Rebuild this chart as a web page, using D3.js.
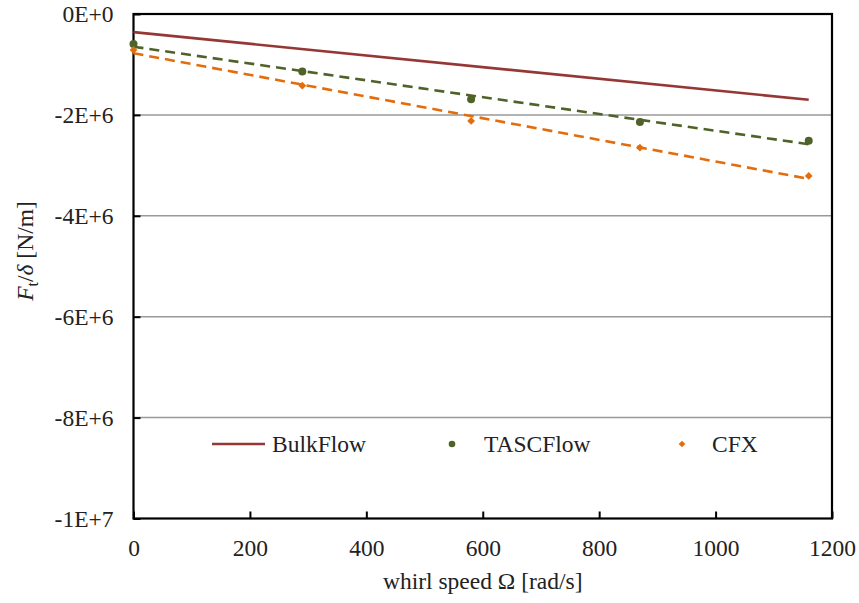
<!DOCTYPE html>
<html><head><meta charset="utf-8">
<script src="https://cdn.jsdelivr.net/npm/d3@7"></script>
<style>body{margin:0;background:#fff}svg{display:block}</style>
</head><body><svg id="c" width="859" height="603"></svg>
<script>
const xTicks = [0,200,400,600,800,1000,1200];
const yTicks = [0,-2e6,-4e6,-6e6,-8e6,-1e7];
const yTickLabels = ["0E+0","-2E+6","-4E+6","-6E+6","-8E+6","-1E+7"];
const bulkX = [0,1160];
const bulkY = [-0.36e6,-1.70e6];
const omega = [0,290,580,870,1160];
const tascY = [-0.594e6,-1.14e6,-1.69e6,-2.14e6,-2.51e6];
const cfxY = [-0.713e6,-1.42e6,-2.12e6,-2.65e6,-3.21e6];
const seriesNames = ["BulkFlow","TASCFlow","CFX"];
const colors = {bulk:"#953735", tasc:"#4F6228", cfx:"#E46C0A"};
const FONT = "Liberation Serif";
const FS = "23.5px";

const svg = d3.select("#c").style("font-family",FONT);
const L=133.5,R=832,T=14,B=518.5;
const x = d3.scaleLinear().domain([0,1200]).range([L,R]);
const y = d3.scaleLinear().domain([-1e7,0]).range([B,T]);

svg.append("g").selectAll("line").data(yTicks.filter(v=>v!==0&&v!==-1e7)).join("line")
  .attr("x1",L).attr("x2",R).attr("y1",d=>y(d)).attr("y2",d=>y(d))
  .attr("stroke","#999").attr("stroke-width",1.5);

const yAxis = d3.axisLeft(y).tickValues(yTicks).tickSize(-7).tickPadding(20)
  .tickFormat((d,i)=>yTickLabels[i]);
const gy = svg.append("g").attr("transform",`translate(${L},0)`).call(yAxis).attr("font-family",null);
gy.select(".domain").remove();
gy.selectAll(".tick line").attr("stroke","#000").attr("stroke-width",2);
gy.selectAll(".tick text").style("font-family",FONT).style("font-size",FS).attr("fill","#222").attr("dy","0.32em");

const xAxis = d3.axisBottom(x).tickValues(xTicks).tickSize(-7).tickPadding(21).tickFormat(d3.format("d"));
const gx = svg.append("g").attr("transform",`translate(0,${B})`).call(xAxis).attr("font-family",null);
gx.select(".domain").remove();
gx.selectAll(".tick line").attr("stroke","#000").attr("stroke-width",2);
gx.selectAll(".tick text").style("font-family",FONT).style("font-size",FS).attr("fill","#222");

svg.append("rect").attr("x",L).attr("y",T).attr("width",R-L).attr("height",B-T)
  .attr("fill","none").attr("stroke","#000").attr("stroke-width",2.2);

// linear trendlines (least squares) of the CFD series
function fit(xs,ys){const n=xs.length,mx=d3.mean(xs),my=d3.mean(ys);
  let sxy=0,sxx=0;for(let i=0;i<n;i++){sxy+=(xs[i]-mx)*(ys[i]-my);sxx+=(xs[i]-mx)**2;}
  const m=sxy/sxx,b=my-m*mx;return [[xs[0],m*xs[0]+b],[xs[n-1],m*xs[n-1]+b]];}
const line = d3.line().x(d=>x(d[0])).y(d=>y(d[1]));

svg.append("path").datum(fit(omega,tascY)).attr("d",line).attr("fill","none")
  .attr("stroke",colors.tasc).attr("stroke-width",2.6).attr("stroke-dasharray","10,6");
svg.append("path").datum(fit(omega,cfxY)).attr("d",line).attr("fill","none")
  .attr("stroke",colors.cfx).attr("stroke-width",2.6).attr("stroke-dasharray","10,6");

svg.append("path").datum(bulkX.map((v,i)=>[v,bulkY[i]])).attr("d",line).attr("fill","none")
  .attr("stroke",colors.bulk).attr("stroke-width",2.6);

svg.append("g").selectAll("circle").data(omega.map((v,i)=>[v,tascY[i]])).join("circle")
  .attr("cx",d=>x(d[0])).attr("cy",d=>y(d[1])).attr("r",4).attr("fill",colors.tasc);
const diamond = d3.symbol().type(d3.symbolSquare).size(30);
svg.append("g").selectAll("path").data(omega.map((v,i)=>[v,cfxY[i]])).join("path")
  .attr("d",diamond).attr("transform",d=>`translate(${x(d[0])},${y(d[1])}) rotate(45)`).attr("fill",colors.cfx);

const ly=444;
const txt = (xx,s)=>svg.append("text").attr("x",xx).attr("y",ly).attr("dy","0.35em")
  .style("font-size",FS).style("font-family",FONT).attr("fill","#222").text(s);
svg.append("line").attr("x1",212).attr("x2",265).attr("y1",ly).attr("y2",ly)
  .attr("stroke",colors.bulk).attr("stroke-width",2.6);
txt(272,seriesNames[0]);
svg.append("circle").attr("cx",452).attr("cy",ly).attr("r",3.3).attr("fill",colors.tasc);
txt(484,seriesNames[1]);
svg.append("path").attr("d",d3.symbol().type(d3.symbolSquare).size(22)).attr("transform",`translate(682,${ly}) rotate(45)`).attr("fill",colors.cfx);
txt(712,seriesNames[2]);

svg.append("text").attr("x",(L+R)/2).attr("y",589).attr("text-anchor","middle")
  .style("font-size",FS).style("font-family",FONT).attr("fill","#222").text("whirl speed Ω [rad/s]");
const yl = svg.append("text").attr("transform","translate(33,251) rotate(-90)").attr("text-anchor","middle")
  .style("font-size",FS).style("font-family",FONT).attr("fill","#222");
yl.append("tspan").style("font-style","italic").text("F");
yl.append("tspan").style("font-size","16px").attr("dy",5).text("t");
yl.append("tspan").attr("dy",-5).text("/");
yl.append("tspan").style("font-style","italic").text("δ");
yl.append("tspan").text(" [N/m]");
</script></body></html>
